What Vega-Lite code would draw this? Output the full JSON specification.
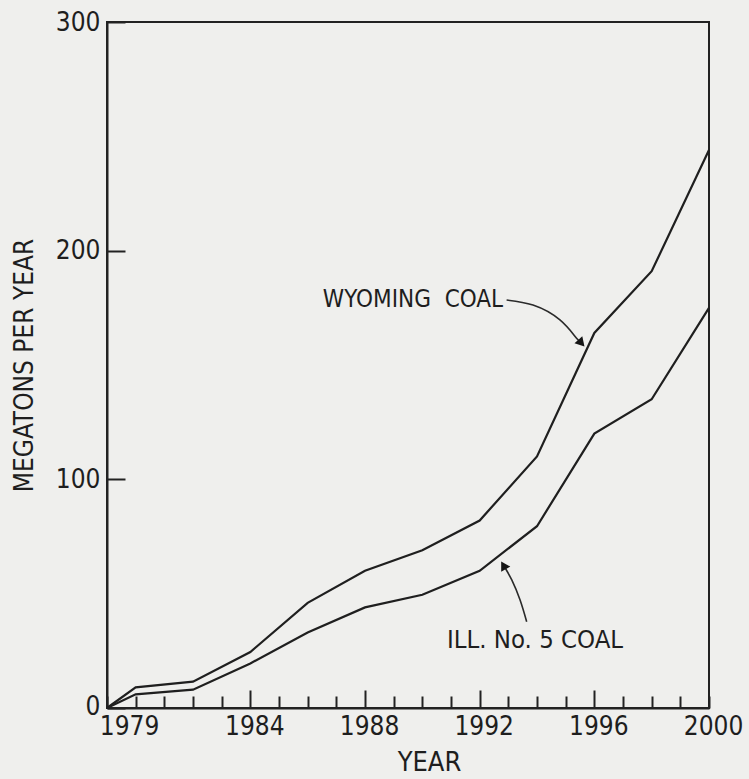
{
  "$schema": "https://vega.github.io/schema/vega-lite/v6.json",
  "autosize": {"type": "none"},
  "padding": {"left": 107, "top": 22, "right": 40, "bottom": 71},
  "width": 602,
  "height": 686,
  "background": "#efefed",
  "config": {
    "view": {"stroke": "#222", "strokeWidth": 2},
    "font": "Liberation Sans Narrow, DejaVu Sans Condensed, sans-serif",
    "axis": {
      "labelFont": "Liberation Sans Narrow, DejaVu Sans Condensed, sans-serif",
      "titleFont": "Liberation Sans Narrow, DejaVu Sans Condensed, sans-serif",
      "labelColor": "#1e1e1e",
      "titleColor": "#1e1e1e",
      "domainColor": "#222",
      "domainWidth": 2,
      "tickColor": "#222",
      "tickWidth": 2,
      "grid": false
    }
  },
  "datasets": {
    "coal": [
      {"year": 1979, "mt": 0, "series": "Wyoming"},
      {"year": 1980, "mt": 9, "series": "Wyoming"},
      {"year": 1982, "mt": 11.5, "series": "Wyoming"},
      {"year": 1984, "mt": 24.5, "series": "Wyoming"},
      {"year": 1986, "mt": 46, "series": "Wyoming"},
      {"year": 1988, "mt": 60, "series": "Wyoming"},
      {"year": 1990, "mt": 69, "series": "Wyoming"},
      {"year": 1992, "mt": 82, "series": "Wyoming"},
      {"year": 1994, "mt": 110, "series": "Wyoming"},
      {"year": 1996, "mt": 164, "series": "Wyoming"},
      {"year": 1998, "mt": 191, "series": "Wyoming"},
      {"year": 2000, "mt": 244, "series": "Wyoming"},
      {"year": 1979, "mt": 0, "series": "Ill5"},
      {"year": 1980, "mt": 6, "series": "Ill5"},
      {"year": 1982, "mt": 8, "series": "Ill5"},
      {"year": 1984, "mt": 19.5, "series": "Ill5"},
      {"year": 1986, "mt": 33, "series": "Ill5"},
      {"year": 1988, "mt": 44, "series": "Ill5"},
      {"year": 1990, "mt": 49.5, "series": "Ill5"},
      {"year": 1992, "mt": 60, "series": "Ill5"},
      {"year": 1994, "mt": 79.5, "series": "Ill5"},
      {"year": 1996, "mt": 120, "series": "Ill5"},
      {"year": 1998, "mt": 135, "series": "Ill5"},
      {"year": 2000, "mt": 175, "series": "Ill5"}
    ],
    "labels": [
      {"year": 1986.53, "mt": 178.4, "text": "WYOMING\u00a0\u00a0COAL", "size": 24},
      {"year": 1990.86, "mt": 29.7, "text": "ILL. No. 5 COAL", "size": 25.5}
    ],
    "arrows": [
      {"arrow": "w", "k": 1, "year": 1992.94, "mt": 178.4},
      {"arrow": "w", "k": 2, "year": 1993.86, "mt": 176.2},
      {"arrow": "w", "k": 3, "year": 1994.8, "mt": 169.7},
      {"arrow": "w", "k": 4, "year": 1995.38, "mt": 161.7},
      {"arrow": "w", "k": 5, "year": 1995.6, "mt": 159.2},
      {"arrow": "i", "k": 1, "year": 1993.64, "mt": 37.7},
      {"arrow": "i", "k": 2, "year": 1993.41, "mt": 47.2},
      {"arrow": "i", "k": 3, "year": 1993.12, "mt": 56.0},
      {"arrow": "i", "k": 4, "year": 1992.85, "mt": 62.1}
    ]
  },
  "layer": [
    {
      "data": {"name": "coal"},
      "mark": {"type": "line", "color": "#1f1f1f", "strokeWidth": 2.2},
      "encoding": {
        "x": {
          "field": "year", "type": "quantitative",
          "scale": {"domain": [1979, 2000], "nice": false, "zero": false},
          "axis": {
            "title": "YEAR",
            "titleFontSize": 27,
            "titleFontWeight": "normal",
            "titlePadding": 10,
            "titleX": 322,
            "values": [1979,1980,1981,1982,1983,1984,1985,1986,1987,1988,1989,1990,1991,1992,1993,1994,1995,1996,1997,1998,1999,2000],
            "tickCount": 40,
            "format": "d",
            "labelExpr": "indexof([1979,1984,1988,1992,1996,2000], datum.value) >= 0 ? datum.label : ''",
            "labelFontSize": 26,
            "labelFlush": false,
            "labelOverlap": false,
            "labelBound": false,
            "tickSize": {"condition": {"test": "datum.value % 4 == 0 && datum.value > 1980 && datum.value < 2000", "value": -18}, "value": -12},
            "labelPadding": {"condition": {"test": "datum.value % 4 == 0 && datum.value > 1980 && datum.value < 2000", "value": 23}, "value": 17},
            "labelOffset": {"condition": {"test": "datum.value == 1979", "value": 22}, "value": 4}
          }
        },
        "y": {
          "field": "mt", "type": "quantitative",
          "scale": {"domain": [0, 300], "nice": false},
          "axis": {
            "title": "MEGATONS PER YEAR",
            "titleFontSize": 26,
            "titleFontWeight": "normal",
            "titlePadding": 18,
            "values": [0, 100, 200, 300],
            "labelFontSize": 26,
            "labelFlush": false,
            "labelOverlap": false,
            "tickSize": -18,
            "labelPadding": 25,
            "labelOffset": {"condition": {"test": "datum.value == 0", "value": -2}, "value": 0}
          }
        },
        "detail": {"field": "series"}
      }
    },
    {
      "data": {"name": "arrows"},
      "mark": {"type": "line", "color": "#2a2a2a", "strokeWidth": 1.6, "interpolate": "natural"},
      "encoding": {
        "x": {"field": "year", "type": "quantitative"},
        "y": {"field": "mt", "type": "quantitative"},
        "detail": {"field": "arrow"},
        "order": {"field": "k"}
      }
    },
    {
      "data": {"values": [{"year": 1995.55, "mt": 159.6}]},
      "mark": {"type": "point", "shape": "triangle-right", "filled": true, "color": "#151515", "opacity": 1, "size": 110, "angle": 48},
      "encoding": {
        "x": {"field": "year", "type": "quantitative"},
        "y": {"field": "mt", "type": "quantitative"}
      }
    },
    {
      "data": {"values": [{"year": 1992.83, "mt": 62.4}]},
      "mark": {"type": "point", "shape": "triangle-right", "filled": true, "color": "#151515", "opacity": 1, "size": 110, "angle": 240},
      "encoding": {
        "x": {"field": "year", "type": "quantitative"},
        "y": {"field": "mt", "type": "quantitative"}
      }
    },
    {
      "data": {"name": "labels"},
      "mark": {"type": "text", "align": "left", "baseline": "middle", "color": "#1e1e1e", "font": "Liberation Sans Narrow, DejaVu Sans Condensed, sans-serif"},
      "encoding": {
        "x": {"field": "year", "type": "quantitative"},
        "y": {"field": "mt", "type": "quantitative"},
        "text": {"field": "text"},
        "size": {"field": "size", "type": "quantitative", "scale": null, "legend": null}
      }
    }
  ]
}
